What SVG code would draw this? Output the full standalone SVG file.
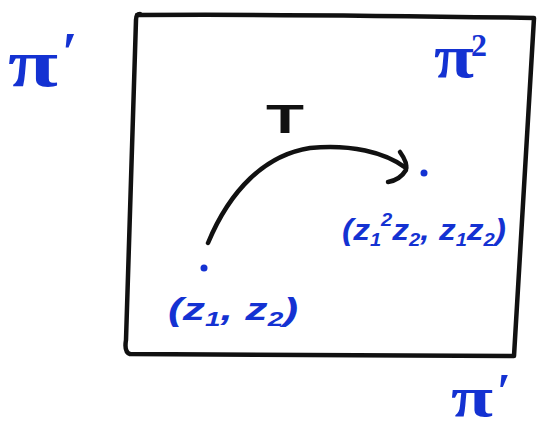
<svg xmlns="http://www.w3.org/2000/svg" width="537" height="429" viewBox="0 0 537 429">
<style>
.ink{fill:none;stroke:#111;stroke-width:4.5;stroke-linecap:round;stroke-linejoin:round}
.blue{fill:#1432d2;font-family:"Liberation Serif","DejaVu Serif",serif;font-weight:bold}
.lbl{fill:#1432d2;font-family:"Liberation Sans","DejaVu Sans",sans-serif;font-style:italic;font-weight:bold}
.dot{fill:#1432d2}
</style>
<rect width="537" height="429" fill="#fff"/>
<g id="frame">
<path class="ink" d="M137,15 Q300,14 534,18 L514,356 L130,354 Q124,352 126,340 L136,20 Q136,14 140,14"/>
</g>
<g id="pi1-left">
<text class="blue" x="8" y="86" font-size="68" textLength="50" lengthAdjust="spacingAndGlyphs">π</text>
<text class="blue" x="62" y="72" font-size="56">′</text>
</g>
<g id="pi2">
<text class="blue" x="434" y="77" font-size="62" textLength="40" lengthAdjust="spacingAndGlyphs">π</text>
<text class="blue" x="471" y="56" font-size="32">2</text>
</g>
<g id="pi1-bottom">
<text class="blue" x="451" y="416" font-size="56" textLength="42" lengthAdjust="spacingAndGlyphs">π</text>
<text class="blue" x="497" y="408" font-size="50">′</text>
</g>
<g id="p1">
<circle class="dot" cx="204" cy="268" r="3.5"/>
<text class="lbl" x="168" y="320" font-size="32" textLength="130" lengthAdjust="spacingAndGlyphs">(z<tspan font-size="20" dy="6">1</tspan><tspan dy="-6">, z</tspan><tspan font-size="20" dy="6">2</tspan><tspan dy="-6">)</tspan></text>
</g>
<g id="p2">
<circle class="dot" cx="424" cy="173" r="3.5"/>
<text class="lbl" x="342" y="240" font-size="30" textLength="164" lengthAdjust="spacingAndGlyphs">(z<tspan font-size="18" dy="6">1</tspan><tspan font-size="18" dy="-20">2</tspan><tspan dy="14">z</tspan><tspan font-size="18" dy="6">2</tspan><tspan dy="-6">, z</tspan><tspan font-size="18" dy="6">1</tspan><tspan dy="-6">z</tspan><tspan font-size="18" dy="6">2</tspan><tspan dy="-6">)</tspan></text>
</g>
<g id="connectors">
<path class="ink" stroke-width="5" d="M208,243 C230,190 265,155 310,148 C350,144 385,152 406,168"/>
<path class="ink" stroke-width="5" d="M400,152 Q408,163 406,170 Q400,180 388,182"/>
<text x="266" y="133" font-family="Liberation Sans, sans-serif" font-weight="bold" font-size="40" fill="#111" textLength="38" lengthAdjust="spacingAndGlyphs">T</text>
</g>
</svg>
